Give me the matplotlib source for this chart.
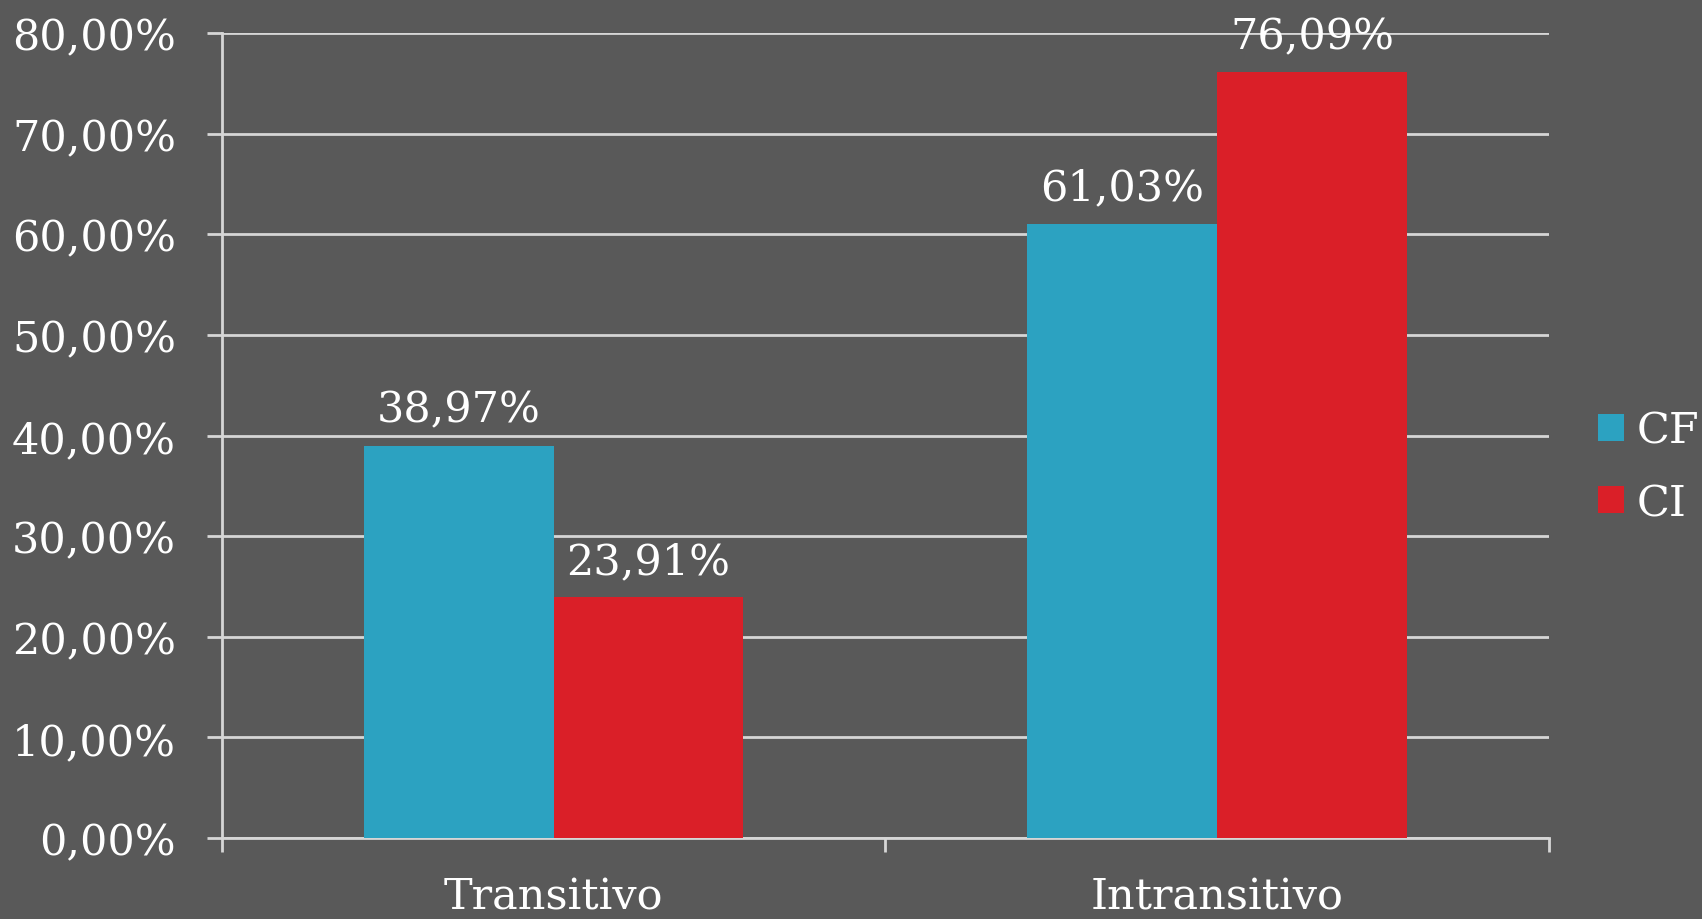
import numpy as np
import matplotlib
matplotlib.use('Agg')
import matplotlib.pyplot as plt
from matplotlib.ticker import FuncFormatter

# data
categories = ['Transitivo', 'Intransitivo']
series_names = ['CF', 'CI']
cf_values = [38.97, 61.03]
ci_values = [23.91, 76.09]
y_ticks = [0, 10, 20, 30, 40, 50, 60, 70, 80]

bg = '#595959'
grid_col = '#d6d6d6'
colors = ['#2ca2c1', '#da1f28']

plt.rcParams['font.family'] = ['DejaVu Serif']

fig = plt.figure(figsize=(17.02, 9.2), dpi=100, facecolor=bg)
ax = fig.add_axes([0.1304, 0.088, 0.7797, 0.875])
ax.set_facecolor(bg)

x = np.arange(len(categories))
w = 0.286
bars_cf = ax.bar(x - w / 2, cf_values, w, color=colors[0], label=series_names[0], zorder=3)
bars_ci = ax.bar(x + w / 2, ci_values, w, color=colors[1], label=series_names[1], zorder=3)

def pct(v):
    return ('%.2f%%' % v).replace('.', ',')

for bars, vals in [(bars_cf, cf_values), (bars_ci, ci_values)]:
    for b, v in zip(bars, vals):
        ax.annotate(pct(v), (b.get_x() + b.get_width() / 2, v),
                    xytext=(0, 11), textcoords='offset points',
                    ha='center', va='bottom', color='white', fontsize=31, zorder=4)

ax.set_xlim(-0.5, 1.5)
ax.set_ylim(0, 80)
ax.set_yticks(y_ticks)
ax.yaxis.set_major_formatter(FuncFormatter(lambda v, p: pct(v)))
ax.grid(axis='y', color=grid_col, linewidth=2, zorder=0)

ax.set_xticks(x)
ax.set_xticklabels(categories)
ax.set_xticks([-0.5, 0.5, 1.5], minor=True)
ax.tick_params(axis='x', which='major', length=0, pad=27, labelsize=31, labelcolor='white')
ax.tick_params(axis='x', which='minor', length=10, width=2, color=grid_col, direction='out')
ax.tick_params(axis='y', length=11, width=2, color=grid_col, pad=22, labelsize=31, labelcolor='white')

for s in ['top', 'right']:
    ax.spines[s].set_visible(False)
for s in ['left', 'bottom']:
    ax.spines[s].set_color(grid_col)
    ax.spines[s].set_linewidth(2)

leg = ax.legend(loc='center left', bbox_to_anchor=(1.024, 0.461), frameon=False,
                fontsize=31, labelcolor='white', handlelength=0.6, handleheight=0.6,
                handletextpad=0.3, labelspacing=0.7, borderaxespad=0)

fig.savefig('out.png', dpi=100, facecolor=bg)
